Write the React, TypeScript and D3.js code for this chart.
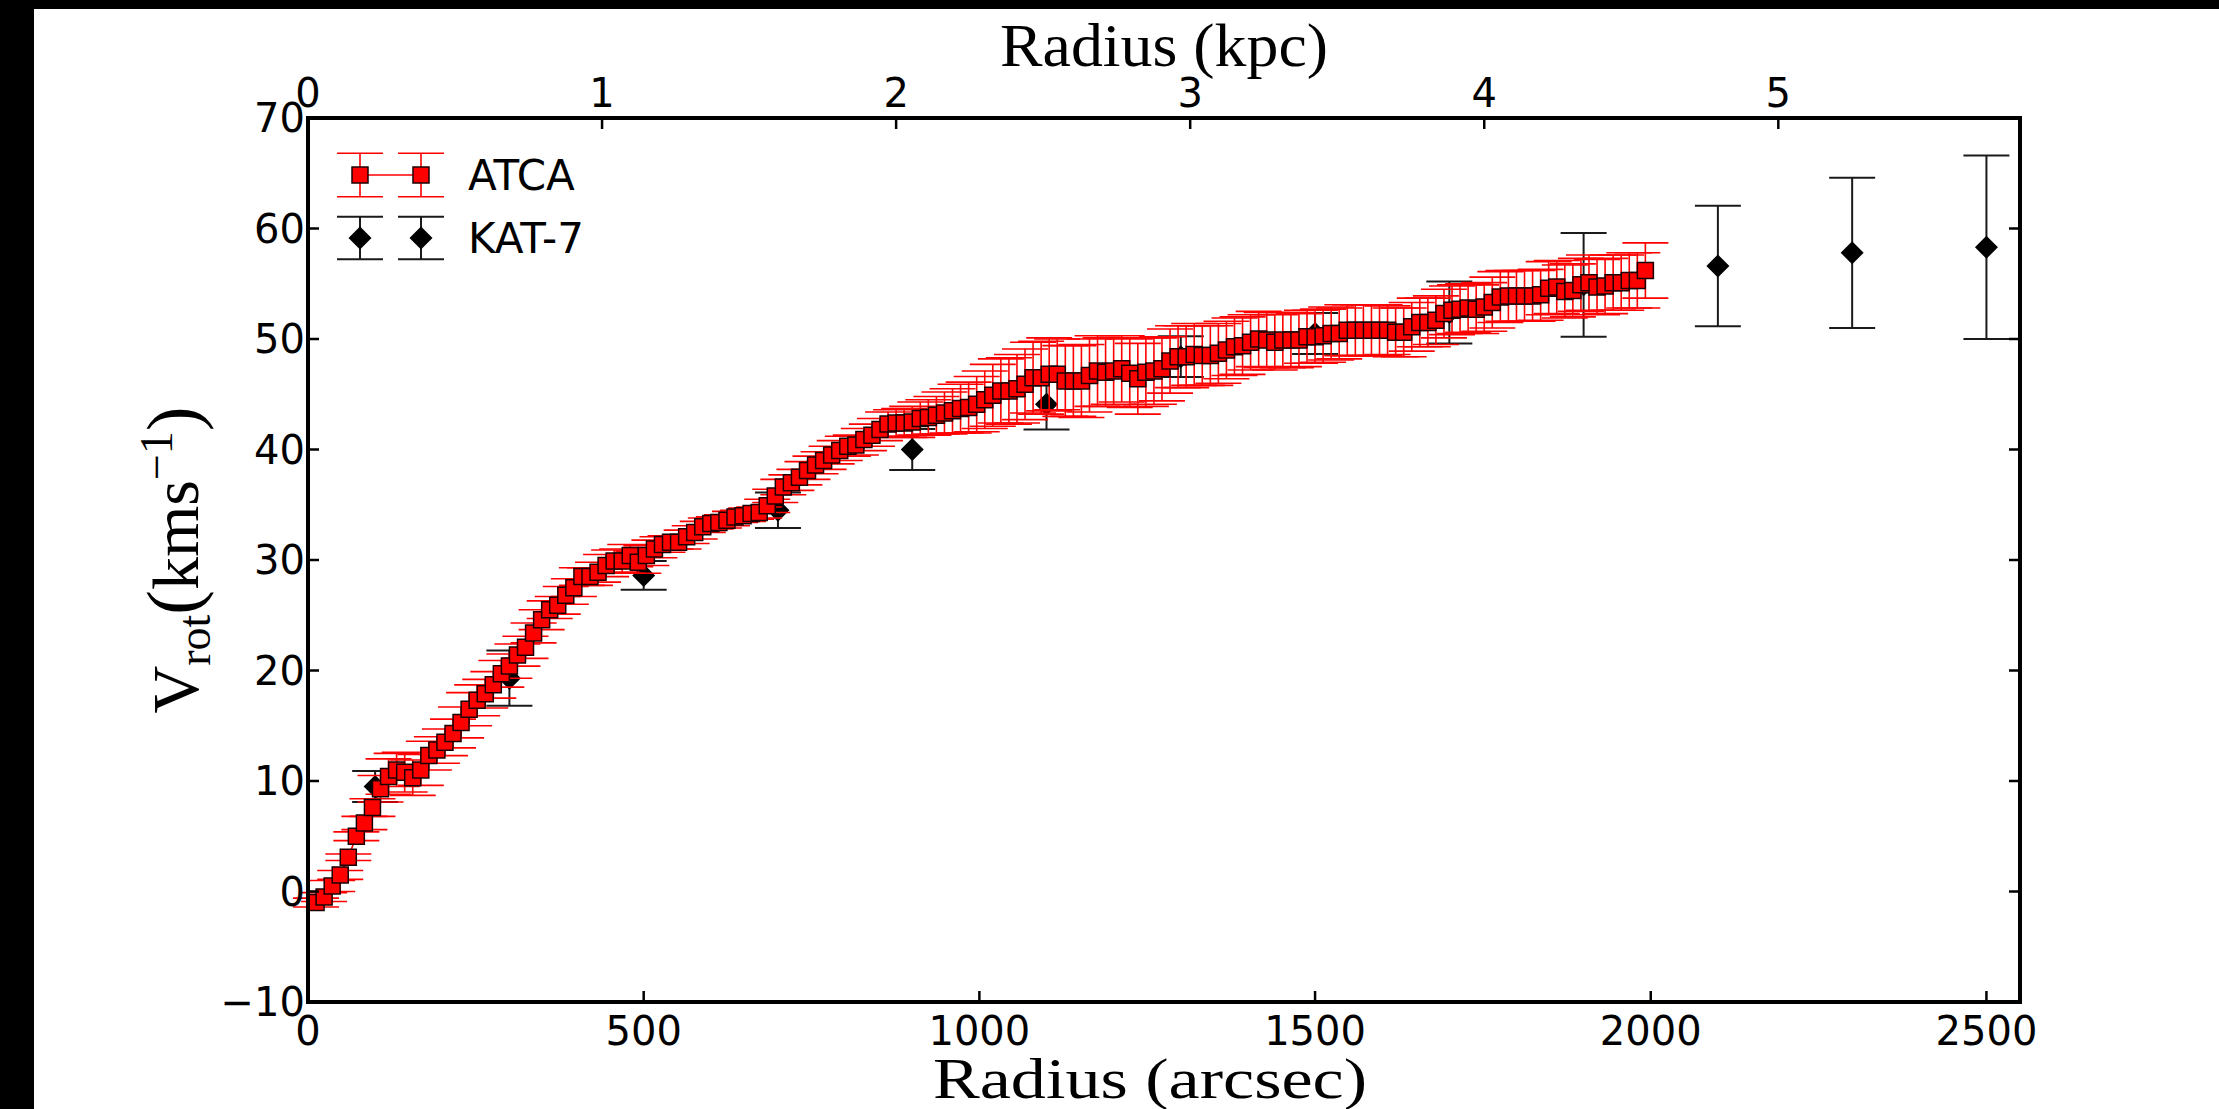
import React from "react";
import * as d3 from "d3";

const W = 2219;
const H = 1109;
const PLOT = { left: 308, right: 2020, top: 118, bottom: 1002 };

const ARCSEC_PER_KPC = 438;
const X_DOMAIN = [0, 2550];
const Y_DOMAIN = [-10, 70];
const X_TICKS = [0, 500, 1000, 1500, 2000, 2500];
const Y_TICKS = [-10, 0, 10, 20, 30, 40, 50, 60, 70];
const KPC_TICKS = [0, 1, 2, 3, 4, 5];

const ATCA_R = [
  12, 24, 36, 48, 60, 72, 84, 96, 108, 120, 132, 144, 156, 168, 180, 192, 204, 216, 228, 240,
  252, 264, 276, 288, 300, 312, 324, 336, 348, 360, 372, 384, 396, 408, 420, 432, 444, 456, 468, 480,
  492, 504, 516, 528, 540, 552, 564, 576, 588, 600, 612, 624, 636, 648, 660, 672, 684, 696, 708, 720,
  732, 744, 756, 768, 780, 792, 804, 816, 828, 840, 852, 864, 876, 888, 900, 912, 924, 936, 948, 960,
  972, 984, 996, 1008, 1020, 1032, 1044, 1056, 1068, 1080, 1092, 1104, 1116, 1128, 1140, 1152, 1164, 1176, 1188, 1200,
  1212, 1224, 1236, 1248, 1260, 1272, 1284, 1296, 1308, 1320, 1332, 1344, 1356, 1368, 1380, 1392, 1404, 1416, 1428, 1440,
  1452, 1464, 1476, 1488, 1500, 1512, 1524, 1536, 1548, 1560, 1572, 1584, 1596, 1608, 1620, 1632, 1644, 1656, 1668, 1680,
  1692, 1704, 1716, 1728, 1740, 1752, 1764, 1776, 1788, 1800, 1812, 1824, 1836, 1848, 1860, 1872, 1884, 1896, 1908, 1920,
  1932, 1944, 1956, 1968, 1980, 1992,
];

const ATCA_V = [
  -1.0, -0.5, 0.5, 1.5, 3.1, 5.0, 6.2, 7.6, 9.3, 10.4,
  11.0, 10.8, 10.3, 11.0, 12.3, 12.8, 13.5, 14.3, 15.3, 16.5,
  17.3, 17.9, 18.7, 19.7, 20.4, 21.4, 22.1, 23.4, 24.6, 25.5,
  25.9, 26.8, 27.5, 28.5, 28.5, 28.9, 29.5, 29.9, 29.9, 30.4,
  29.8, 30.4, 31.0, 31.4, 31.6, 31.6, 32.1, 32.5, 33.0, 33.3,
  33.4, 33.6, 33.9, 34.0, 34.2, 34.3, 34.9, 35.8, 36.6, 37.0,
  37.5, 38.1, 38.6, 39.0, 39.5, 39.9, 40.3, 40.4, 40.9, 41.3,
  41.8, 42.3, 42.4, 42.4, 42.5, 42.8, 42.9, 43.1, 43.3, 43.5,
  43.7, 43.8, 44.1, 44.5, 44.9, 45.3, 45.3, 45.5, 45.9, 46.5,
  46.5, 46.8, 46.8, 46.2, 46.2, 46.2, 46.7, 47.1, 47.0, 47.1,
  47.3, 46.9, 46.4, 47.0, 47.1, 47.3, 48.0, 48.4, 48.4, 48.6,
  48.5, 48.5, 48.7, 49.0, 49.3, 49.4, 49.7, 50.0, 49.9, 49.7,
  49.9, 49.9, 49.9, 50.2, 50.2, 50.3, 50.5, 50.5, 50.8, 50.8,
  50.8, 50.8, 50.8, 50.8, 50.6, 50.6, 51.1, 51.5, 51.5, 51.7,
  52.3, 52.6, 52.7, 52.8, 52.7, 52.9, 53.3, 53.8, 53.9, 53.9,
  53.9, 53.9, 54.0, 54.6, 54.7, 54.3, 54.4, 54.9, 55.1, 54.7,
  54.8, 55.1, 55.1, 55.3, 55.3, 56.2,
];

const ATCA_ERR = [
  0.4, 0.4, 0.5, 0.4, 0.3, 0.4, 0.6, 0.8, 1.2, 1.6,
  1.5, 1.8, 1.6, 1.4, 1.3, 1.2, 1.2, 1.3, 1.4, 1.5,
  1.4, 1.3, 1.2, 1.2, 1.1, 1.0, 1.0, 0.9, 0.9, 0.8,
  0.8, 0.8, 0.8, 0.8, 0.8, 0.9, 1.0, 1.0, 1.1, 1.0,
  1.0, 0.9, 0.8, 0.7, 0.6, 0.6, 0.6, 0.6, 0.5, 0.5,
  0.5, 0.5, 0.5, 0.5, 0.5, 0.5, 0.6, 0.6, 0.7, 0.7,
  0.7, 0.8, 0.8, 0.8, 0.8, 0.9, 0.9, 0.9, 1.0, 1.0,
  1.0, 1.1, 1.2, 1.3, 1.4, 1.5, 1.6, 1.7, 1.9, 2.0,
  2.2, 2.3, 2.5, 2.6, 2.8, 2.9, 3.0, 3.1, 3.2, 3.2,
  3.3, 3.3, 3.2, 3.2, 3.2, 3.3, 3.3, 3.2, 3.1, 3.0,
  3.0, 3.1, 3.2, 3.1, 3.0, 2.9, 2.9, 2.8, 2.8, 2.8,
  2.7, 2.7, 2.7, 2.6, 2.6, 2.6, 2.5, 2.5, 2.5, 2.5,
  2.5, 2.5, 2.4, 2.4, 2.4, 2.4, 2.4, 2.3, 2.3, 2.3,
  2.3, 2.3, 2.3, 2.2, 2.2, 2.2, 2.2, 2.2, 2.2, 2.2,
  2.2, 2.2, 2.2, 2.2, 2.2, 2.2, 2.3, 2.3, 2.3, 2.3,
  2.3, 2.3, 2.3, 2.4, 2.4, 2.4, 2.4, 2.4, 2.5, 2.5,
  2.5, 2.5, 2.5, 2.5, 2.5, 2.5,
];

const KAT_R = [100, 300, 500, 700, 900, 1100, 1300, 1500, 1700, 1900, 2100, 2300, 2500];
const KAT_V = [9.5, 19.3, 28.6, 34.5, 40.0, 44.1, 48.4, 50.5, 52.4, 54.9, 56.6, 57.8, 58.3];
const KAT_ERR = [1.4, 2.5, 1.3, 1.6, 1.85, 2.3, 1.85, 1.85, 2.8, 4.7, 5.45, 6.8, 8.3];

const SERIES_NAMES = ["ATCA", "KAT-7"];

const CAP = 23;
const SQ = 8;
const DI = 11.5;
const TICK_FONT = "'DejaVu Sans', sans-serif";
const TICK_SIZE = 40;
const LABEL_FONT = "'Liberation Serif', 'DejaVu Serif', serif";

const squarePath = `M${-SQ},${-SQ}H${SQ}V${SQ}H${-SQ}Z`;
const diamondPath = `M0,${-DI}L${DI},0L0,${DI}L${-DI},0Z`;

function ErrBar({ x, y0, y1, color, width }: { x: number; y0: number; y1: number; color: string; width: number }) {
  return (
    <g stroke={color} strokeWidth={width} fill="none">
      <line x1={x} x2={x} y1={y0} y2={y1} />
      <line x1={x - CAP} x2={x + CAP} y1={y0} y2={y0} />
      <line x1={x - CAP} x2={x + CAP} y1={y1} y2={y1} />
    </g>
  );
}

export default function App() {
  const xs = d3.scaleLinear().domain(X_DOMAIN).range([PLOT.left, PLOT.right]);
  const ys = d3.scaleLinear().domain(Y_DOMAIN).range([PLOT.bottom, PLOT.top]);
  const ks = d3
    .scaleLinear()
    .domain([X_DOMAIN[0] / ARCSEC_PER_KPC, X_DOMAIN[1] / ARCSEC_PER_KPC])
    .range([PLOT.left, PLOT.right]);

  const atca = ATCA_R.map((r, i) => ({ r, v: ATCA_V[i], e: ATCA_ERR[i] }));
  const kat = KAT_R.map((r, i) => ({ r, v: KAT_V[i], e: KAT_ERR[i] }));

  const line = d3
    .line<{ r: number; v: number }>()
    .x((d) => xs(d.r))
    .y((d) => ys(d.v));

  const fmt = (v: number) => (v < 0 ? "\u2212" + Math.abs(v) : String(v));
  const TL = 11;

  const legX1 = 360;
  const legX2 = 421;
  const legY1 = 175;
  const legY2 = 238;

  return (
    <svg
      width={W}
      height={H}
      viewBox={`0 0 ${W} ${H}`}
      style={{ position: "absolute", left: 0, top: 0, background: "#fff" }}
    >
      <rect x={0} y={0} width={W} height={H} fill="#fff" />

      {/* KAT-7 */}
      <g>
        {kat.map((d, i) => (
          <ErrBar key={"ke" + i} x={xs(d.r)} y0={ys(d.v + d.e)} y1={ys(d.v - d.e)} color="#1a1a1a" width={2} />
        ))}
        {kat.map((d, i) => (
          <path key={"km" + i} d={diamondPath} transform={`translate(${xs(d.r)},${ys(d.v)})`} fill="#000" />
        ))}
      </g>

      {/* ATCA */}
      <g>
        {atca.map((d, i) => (
          <ErrBar key={"ae" + i} x={xs(d.r)} y0={ys(d.v + d.e)} y1={ys(d.v - d.e)} color="#ff0000" width={1.6} />
        ))}
        <path d={line(atca) || ""} fill="none" stroke="#ff0000" strokeWidth={1.6} />
        {atca.map((d, i) => (
          <path
            key={"am" + i}
            d={squarePath}
            transform={`translate(${xs(d.r)},${ys(d.v)})`}
            fill="#ff0000"
            stroke="#1a0000"
            strokeWidth={1.5}
          />
        ))}
      </g>

      {/* frame */}
      <rect
        x={PLOT.left}
        y={PLOT.top}
        width={PLOT.right - PLOT.left}
        height={PLOT.bottom - PLOT.top}
        fill="none"
        stroke="#000"
        strokeWidth={4}
      />

      {/* y ticks left and right */}
      {Y_TICKS.map((t) => (
        <g key={"yt" + t}>
          <line x1={PLOT.left} x2={PLOT.left + TL} y1={ys(t)} y2={ys(t)} stroke="#000" strokeWidth={2.5} />
          <line x1={PLOT.right} x2={PLOT.right - TL} y1={ys(t)} y2={ys(t)} stroke="#000" strokeWidth={2.5} />
          <text
            x={PLOT.left - 3}
            y={ys(t)}
            dy="0.36em"
            textAnchor="end"
            fontFamily={TICK_FONT}
            fontSize={TICK_SIZE}
            fill="#000"
          >
            {fmt(t)}
          </text>
        </g>
      ))}

      {/* bottom ticks */}
      {X_TICKS.map((t) => (
        <g key={"xt" + t}>
          <line x1={xs(t)} x2={xs(t)} y1={PLOT.bottom} y2={PLOT.bottom - TL} stroke="#000" strokeWidth={2.5} />
          <text x={xs(t)} y={1045} textAnchor="middle" fontFamily={TICK_FONT} fontSize={TICK_SIZE} fill="#000">
            {fmt(t)}
          </text>
        </g>
      ))}

      {/* top ticks (kpc) */}
      {KPC_TICKS.map((t) => (
        <g key={"kt" + t}>
          <line x1={ks(t)} x2={ks(t)} y1={PLOT.top} y2={PLOT.top + TL} stroke="#000" strokeWidth={2.5} />
          <text x={ks(t)} y={107} textAnchor="middle" fontFamily={TICK_FONT} fontSize={TICK_SIZE} fill="#000">
            {String(t)}
          </text>
        </g>
      ))}

      {/* axis titles */}
      <text
        x={1164}
        y={66}
        textAnchor="middle"
        fontFamily={LABEL_FONT}
        fontSize={62}
        textLength={328}
        lengthAdjust="spacingAndGlyphs"
        fill="#000"
      >
        Radius (kpc)
      </text>
      <text
        x={1150}
        y={1098}
        textAnchor="middle"
        fontFamily={LABEL_FONT}
        fontSize={58}
        textLength={434}
        lengthAdjust="spacingAndGlyphs"
        fill="#000"
      >
        Radius (arcsec)
      </text>
      <text
        transform={`translate(198,560) rotate(-90)`}
        textAnchor="middle"
        fontFamily={LABEL_FONT}
        fontSize={66}
        fill="#000"
      >
        <tspan>V</tspan>
        <tspan fontSize={46} dy={12}>rot</tspan>
        <tspan fontSize={74} dy={-12}>(</tspan>
        <tspan>kms</tspan>
        <tspan fontSize={46} dy={-26}>{"\u22121"}</tspan>
        <tspan fontSize={74} dy={26}>)</tspan>
      </text>

      {/* legend */}
      <g>
        <ErrBar x={legX1} y0={legY1 - 21.7} y1={legY1 + 21.7} color="#ff0000" width={1.6} />
        <ErrBar x={legX2} y0={legY1 - 21.7} y1={legY1 + 21.7} color="#ff0000" width={1.6} />
        <line x1={legX1} x2={legX2} y1={legY1} y2={legY1} stroke="#ff0000" strokeWidth={1.6} />
        <path d={squarePath} transform={`translate(${legX1},${legY1})`} fill="#ff0000" stroke="#1a0000" strokeWidth={1.5} />
        <path d={squarePath} transform={`translate(${legX2},${legY1})`} fill="#ff0000" stroke="#1a0000" strokeWidth={1.5} />
        <text x={468} y={legY1} dy="0.36em" fontFamily={TICK_FONT} fontSize={42} fill="#000">
          {SERIES_NAMES[0]}
        </text>

        <ErrBar x={legX1} y0={legY2 - 21.3} y1={legY2 + 21.3} color="#1a1a1a" width={2} />
        <ErrBar x={legX2} y0={legY2 - 21.3} y1={legY2 + 21.3} color="#1a1a1a" width={2} />
        <path d={diamondPath} transform={`translate(${legX1},${legY2})`} fill="#000" />
        <path d={diamondPath} transform={`translate(${legX2},${legY2})`} fill="#000" />
        <text x={468} y={legY2} dy="0.36em" fontFamily={TICK_FONT} fontSize={42} fill="#000">
          {SERIES_NAMES[1]}
        </text>
      </g>

      {/* black borders */}
      <rect x={0} y={0} width={34} height={H} fill="#000" />
      <rect x={0} y={0} width={W} height={9} fill="#000" />
    </svg>
  );
}
